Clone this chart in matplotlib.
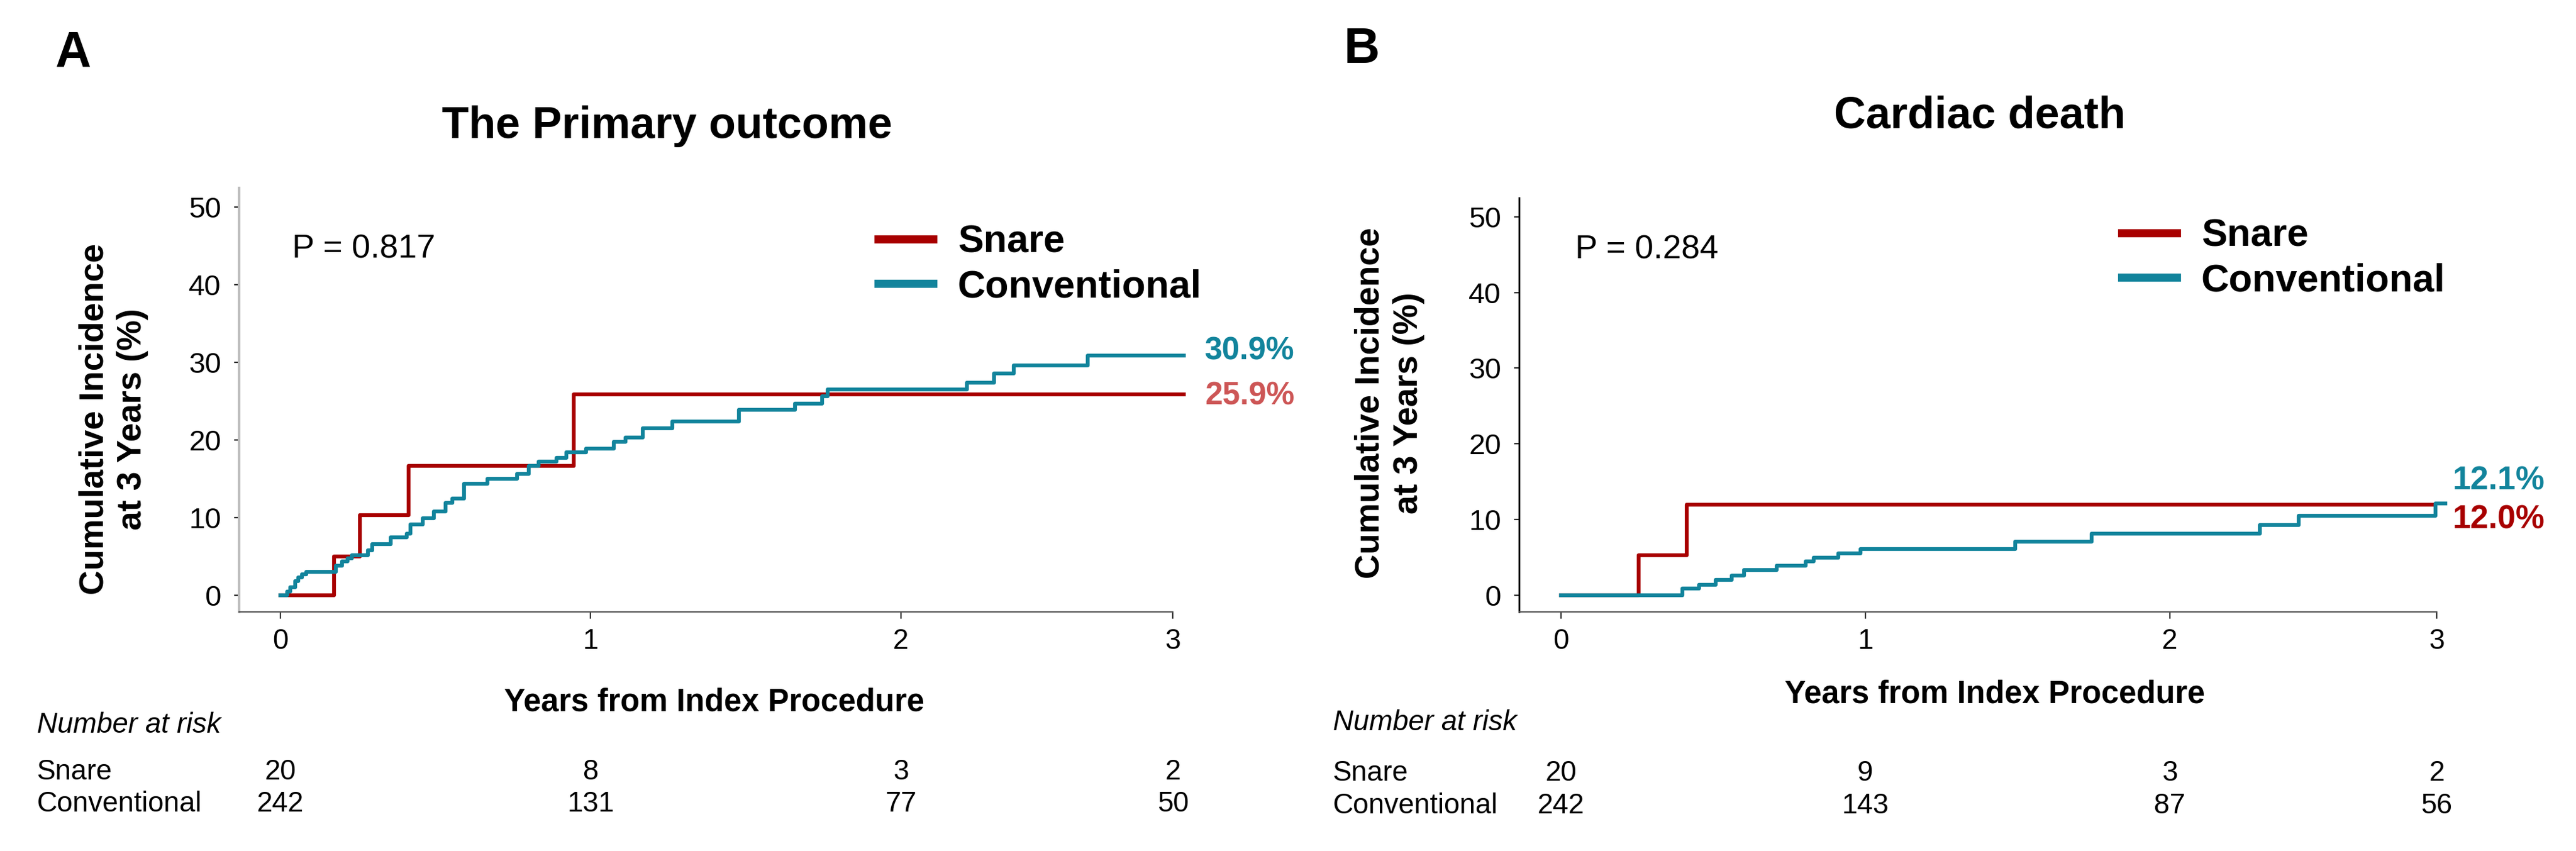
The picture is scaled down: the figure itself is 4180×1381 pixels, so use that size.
import matplotlib
matplotlib.use("Agg")
import matplotlib.pyplot as plt
from matplotlib.lines import Line2D
from matplotlib.transforms import blended_transform_factory

plt.rcParams['font.family'] = ['Liberation Sans', 'DejaVu Sans']

W, H = 4180, 1381

RED = '#a80000'
TEAL = '#12849c'
RED_LABEL = '#cd5656'

# ---- panel A: the primary outcome (step times in years, cumulative incidence %)
a_snare_t = [0, 0.173, 0.256, 0.413, 0.945]
a_snare_v = [0, 5.0, 10.3, 16.7, 25.9]
a_conv_t = [0, 0.022, 0.032, 0.048, 0.058, 0.070, 0.083, 0.179, 0.199, 0.217,
            0.231, 0.282, 0.297, 0.356, 0.408, 0.419, 0.459, 0.495, 0.533, 0.555,
            0.592, 0.668, 0.763, 0.801, 0.833, 0.890, 0.922, 0.986, 1.074, 1.112,
            1.169, 1.264, 1.479, 1.658, 1.746, 1.765, 2.213, 2.300, 2.364, 2.603]
a_conv_v = [0, 0.5, 1.0, 1.8, 2.3, 2.7, 3.0, 3.8, 4.4, 4.8,
            5.2, 5.8, 6.6, 7.5, 7.9, 9.1, 9.9, 10.8, 11.9, 12.5,
            14.4, 15.0, 15.6, 16.7, 17.2, 17.7, 18.4, 18.9, 19.8, 20.3,
            21.5, 22.4, 23.9, 24.7, 25.6, 26.5, 27.4, 28.6, 29.6, 30.9]
a_snare_end = 2.913
a_conv_end = 2.913

# ---- panel B: cardiac death
b_snare_t = [0, 0.255, 0.413]
b_snare_v = [0, 5.3, 12.0]
b_conv_t = [0, 0.399, 0.453, 0.507, 0.561, 0.601, 0.709, 0.804, 0.830, 0.911,
            0.984, 1.492, 1.743, 2.296, 2.423, 2.874]
b_conv_v = [0, 0.9, 1.4, 2.0, 2.6, 3.3, 3.9, 4.5, 5.0, 5.5,
            6.1, 7.1, 8.1, 9.3, 10.5, 12.1]
b_snare_end = 2.872
b_conv_end = 2.905

# x ticks (the "3" tick sits at the end of the axis line, as in the figure)
tick_pos = [0, 1, 2, 2.877]
tick_labels = ['0', '1', '2', '3']

# numbers at risk
a_risk_snare = [20, 8, 3, 2]
a_risk_conv = [242, 131, 77, 50]
b_risk_snare = [20, 9, 3, 2]
b_risk_conv = [242, 143, 87, 56]


def fx(x):
    return x / W


def fy(y):
    return 1 - y / H


def step_xy(t, v, end):
    return list(t) + [end], list(v) + [v[-1]]


fig = plt.figure(figsize=(W / 100, H / 100), dpi=100)

# axes boxes in pixel coords: left, top, right, bottom
ax_a = fig.add_axes([fx(388), fy(993), fx(1940 - 388), (993 - 305) / H])
ax_b = fig.add_axes([fx(2465), fy(993), fx(3990 - 2465), (993 - 321) / H])


def draw_panel(ax, s_t, s_v, s_end, c_t, c_v, c_end, ylims, xlims, yspine_col, yspine_w):
    x, y = step_xy(s_t, s_v, s_end)
    ax.step(x, y, where='post', color=RED, lw=4.5, clip_on=False)
    x, y = step_xy(c_t, c_v, c_end)
    ax.step(x, y, where='post', color=TEAL, lw=4.5, clip_on=False)

    ax.set_xlim(*xlims)
    ax.set_ylim(*ylims)
    ax.set_yticks([0, 10, 20, 30, 40, 50])
    ax.set_xticks(tick_pos)
    ax.set_xticklabels(tick_labels)
    for s in ['top', 'right']:
        ax.spines[s].set_visible(False)
    ax.spines['left'].set_color(yspine_col)
    ax.spines['left'].set_linewidth(yspine_w)
    ax.spines['bottom'].set_color('#555555')
    ax.spines['bottom'].set_linewidth(1.6)
    ax.spines['bottom'].set_bounds(xlims[0], tick_pos[-1])
    ax.tick_params(axis='y', length=6, width=1.6, pad=15, labelsize=34, color='#222222')
    ax.tick_params(axis='x', length=8, width=1.6, pad=11, labelsize=33, color='#333333')


draw_panel(ax_a, a_snare_t, a_snare_v, a_snare_end, a_conv_t, a_conv_v, a_conv_end,
           (-2.14, 52.46), (-0.133, 2.95), '#bdbdbd', 3.0)
draw_panel(ax_b, b_snare_t, b_snare_v, b_snare_end, b_conv_t, b_conv_v, b_conv_end,
           (-2.2, 52.5), (-0.138, 2.95), '#000000', 2.0)

# p-values
ax_a.text(0.038, 44.6, 'P = 0.817', fontsize=39, va='center', ha='left')
ax_b.text(0.047, 45.6, 'P = 0.284', fontsize=39, va='center', ha='left')

# end labels
ax_a.text(2.98, 31.4, '30.9%', color=TEAL, fontsize=37, fontweight='bold', va='center')
ax_a.text(2.98, 25.6, '25.9%', color=RED_LABEL, fontsize=37, fontweight='bold', va='center')
ax_b.text(2.93, 15.1, '12.1%', color=TEAL, fontsize=38, fontweight='bold', va='center')
ax_b.text(2.93, 10.0, '12.0%', color=RED, fontsize=38, fontweight='bold', va='center')

# legends
handles = [Line2D([], [], color=RED, lw=9.5), Line2D([], [], color=TEAL, lw=9.5)]
for ax, lx, ty in [(ax_a, 1425, 364), (ax_b, 3443, 354)]:
    ax.legend(handles, ['Snare', 'Conventional'], loc='upper left',
              bbox_to_anchor=(fx(lx), fy(ty)), bbox_transform=fig.transFigure,
              frameon=False, prop={'weight': 'bold', 'size': 45},
              handlelength=1.42, handletextpad=0.64, labelspacing=0.21,
              borderpad=0, borderaxespad=0)

# titles, panel letters, axis labels
fig.text(fx(1082), fy(205), 'The Primary outcome', fontsize=51.5, fontweight='bold', ha='center', va='center')
fig.text(fx(3213), fy(188), 'Cardiac death', fontsize=51.5, fontweight='bold', ha='center', va='center')
fig.text(fx(119), fy(87), 'A', fontsize=58, fontweight='bold', ha='center', va='center')
fig.text(fx(2210), fy(81), 'B', fontsize=58, fontweight='bold', ha='center', va='center')
fig.text(fx(1159), fy(1140), 'Years from Index Procedure', fontsize=37, fontweight='bold', ha='center', va='center')
fig.text(fx(3237), fy(1127), 'Years from Index Procedure', fontsize=37, fontweight='bold', ha='center', va='center')
for x, y in [(184, 680), (2255, 654)]:
    fig.text(fx(x), fy(y), 'Cumulative Incidence\nat 3 Years (%)', fontsize=40, fontweight='bold',
             rotation=90, ha='center', va='center', multialignment='center', linespacing=1.25)

# numbers at risk
for ax, left, rows, rs, rc in [(ax_a, 60, (1177, 1253, 1305), a_risk_snare, a_risk_conv),
                               (ax_b, 2163, (1173, 1255, 1308), b_risk_snare, b_risk_conv)]:
    fig.text(fx(left), fy(rows[0]), 'Number at risk', fontsize=33, style='italic', va='center')
    fig.text(fx(left), fy(rows[1]), 'Snare', fontsize=33, va='center')
    fig.text(fx(left), fy(rows[2]), 'Conventional', fontsize=33, va='center')
    trans = blended_transform_factory(ax.transData, fig.transFigure)
    for t, ns, nc in zip(tick_pos, rs, rc):
        ax.text(t, fy(rows[1]), str(ns), transform=trans, fontsize=33, ha='center', va='center')
        ax.text(t, fy(rows[2]), str(nc), transform=trans, fontsize=33, ha='center', va='center')

fig.savefig('out.png', dpi=100, facecolor='white')
